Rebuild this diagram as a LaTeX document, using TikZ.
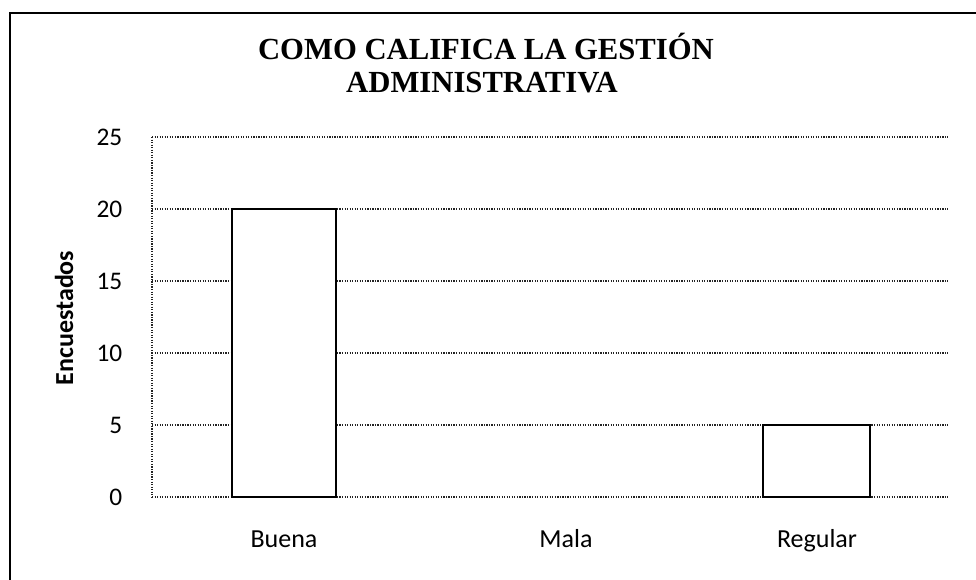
\documentclass[tikz,border=0pt]{standalone}
\usepackage{fontspec}
\setmainfont{Liberation Serif}
\setsansfont{Carlito}
\usetikzlibrary{positioning}
\definecolor{gridgray}{RGB}{35,35,35}

\begin{document}
\begin{tikzpicture}[x=0.75pt, y=-0.75pt,
    gridline/.style={gridgray, densely dotted, line width=0.9pt},
    barbox/.style={black, fill=white, line width=2.2pt},
    ticklabel/.style={font=\sffamily\fontsize{19}{21}\selectfont, anchor=east},
    catlabel/.style={font=\sffamily\fontsize{19.5}{21}\selectfont, anchor=base}]
    \useasboundingbox (0,0) rectangle (976,580);
    \clip (0,0) rectangle (976,580);

    % Outer frame
    \draw[line width=1.2pt] (10,13) rectangle (1020,620);

    % Title
    \node[font=\bfseries\fontsize{23}{25}\selectfont, anchor=base] (title1) at (486,60) {COMO CALIFICA LA GESTIÓN};
    \node[font=\bfseries\fontsize{23}{25}\selectfont, anchor=base] (title2) at (482,93) {ADMINISTRATIVA};

    % Grid lines and value axis
    \foreach \v in {0,5,...,25} {
        \draw[gridline] (152,497-14.4*\v) -- (948,497-14.4*\v);
        \node[ticklabel] (tick\v) at (127,497-14.4*\v) {\v};
    }
    \draw[gridline] (152,137) -- (152,497);

    % Bars
    \draw[barbox] (232,497) rectangle (336,209);
    \draw[barbox] (763,497) rectangle (870,425);

    % Category labels
    \foreach \name/\x in {Buena/284, Mala/566, Regular/817} {
        \node[catlabel] (cat\name) at (\x,548) {\name};
    }

    % Axis title
    \node[rotate=90, font=\sffamily\bfseries\fontsize{19.5}{21}\selectfont] (ylabel) at (64,318) {Encuestados};
\end{tikzpicture}
\end{document}
